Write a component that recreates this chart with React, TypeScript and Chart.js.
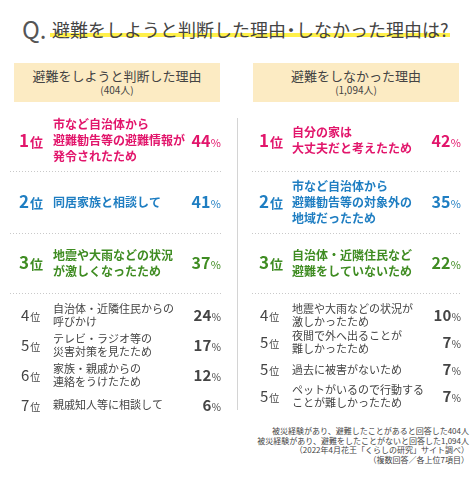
import React, { useEffect, useRef } from "react";
import { Chart, registerables } from "chart.js";

Chart.register(...registerables);

const FONT = '"Noto Sans CJK JP", "Noto Sans", sans-serif';

// ---- data ----
const titleQ = "Q.";
const titleParts = ["避難をしようと判断した理由", "・", "しなかった理由は?"];
const leftHeader = "避難をしようと判断した理由";
const leftCount = "(404人)";
const rightHeader = "避難をしなかった理由";
const rightCount = "(1,094人)";

const leftTopRanks = ["1位", "2位", "3位"];
const leftTopReasons = [
  ["市など自治体から", "避難勧告等の避難情報が", "発令されたため"],
  ["同居家族と相談して"],
  ["地震や大雨などの状況", "が激しくなったため"],
];
const leftTopValues = [44, 41, 37];

const leftBottomRanks = ["4位", "5位", "6位", "7位"];
const leftBottomReasons = [
  ["自治体・近隣住民からの", "呼びかけ"],
  ["テレビ・ラジオ等の", "災害対策を見たため"],
  ["家族・親戚からの", "連絡をうけたため"],
  ["親戚知人等に相談して"],
];
const leftBottomValues = [24, 17, 12, 6];

const rightTopRanks = ["1位", "2位", "3位"];
const rightTopReasons = [
  ["自分の家は", "大丈夫だと考えたため"],
  ["市など自治体から", "避難勧告等の対象外の", "地域だったため"],
  ["自治体・近隣住民など", "避難をしていないため"],
];
const rightTopValues = [42, 35, 22];

const rightBottomRanks = ["4位", "5位", "5位", "5位"];
const rightBottomReasons = [
  ["地震や大雨などの状況が", "激しかったため"],
  ["夜間で外へ出ることが", "難しかったため"],
  ["過去に被害がないため"],
  ["ペットがいるので行動する", "ことが難しかったため"],
];
const rightBottomValues = [10, 7, 7, 7];

const topColors = ["#e2156b", "#1f7ec2", "#3f8c22"];
const bottomColor = "#444444";

const footnotes = [
  "被災経験があり、避難したことがあると回答した404人",
  "被災経験があり、避難をしたことがないと回答した1,094人",
  "（2022年4月花王「くらしの研究」サイト調べ）",
  "（複数回答／各上位7項目）",
];

type RowsProps = {
  ranks: string[];
  reasons: string[][];
  values: number[];
  colors: string[];
  top: boolean;
  left: number;
  y: number;
  width: number;
  height: number;
  rankOff: number;
  textOff: number;
};

function RowsChart(p: RowsProps) {
  const ref = useRef<HTMLCanvasElement | null>(null);
  useEffect(() => {
    if (!ref.current) return;
    const isTop = p.top;
    const rowsPlugin = {
      id: "rowsText",
      afterDatasetsDraw(chart: any) {
        const { ctx, chartArea, scales } = chart;
        const ys = scales.y;
        const n = p.ranks.length;
        ctx.save();
        if (isTop) {
          ctx.strokeStyle = "#c9c9c9";
          ctx.lineWidth = 1;
          ctx.setLineDash([1, 2]);
          for (let i = 0; i < n; i++) {
            const yy =
              i < n - 1
                ? (ys.getPixelForValue(i) + ys.getPixelForValue(i + 1)) / 2
                : chartArea.bottom - 1;
            const ry = Math.round(yy) + 0.5;
            ctx.beginPath();
            ctx.moveTo(chartArea.left, ry);
            ctx.lineTo(chartArea.right, ry);
            ctx.stroke();
          }
          ctx.setLineDash([]);
        }
        for (let i = 0; i < n; i++) {
          const cy = ys.getPixelForValue(i);
          const color = p.colors[i];
          ctx.fillStyle = color;
          const weight = isTop ? "bold" : "normal";
          // rank
          const num = p.ranks[i].replace("位", "");
          const numSize = isTop ? 17 : 15;
          const iSize = isTop ? 13 : 10;
          ctx.textBaseline = "alphabetic";
          ctx.textAlign = "left";
          ctx.font = `${weight} ${numSize}px ${FONT}`;
          const rx = chartArea.left + p.rankOff;
          const base = cy + (isTop ? 6 : 5.5);
          ctx.fillText(num, rx, base);
          const nw = ctx.measureText(num).width;
          ctx.font = `${weight} ${iSize}px ${FONT}`;
          ctx.fillText("位", rx + nw + 1, base);
          // reason lines
          const lines = p.reasons[i];
          const lh = isTop ? 16 : 13;
          ctx.font = `${weight} ${isTop ? 12 : 11}px ${FONT}`;
          ctx.textBaseline = "middle";
          for (let j = 0; j < lines.length; j++) {
            const ly = cy + (j - (lines.length - 1) / 2) * lh;
            ctx.fillText(lines[j], chartArea.left + p.textOff, ly);
          }
          // percent
          ctx.textBaseline = "alphabetic";
          ctx.textAlign = "right";
          ctx.font = `normal ${isTop ? 11 : 10}px ${FONT}`;
          const pr = chartArea.right;
          ctx.fillText("%", pr, base);
          const pw = ctx.measureText("%").width;
          ctx.font = `bold ${isTop ? 16 : 15}px ${FONT}`;
          ctx.fillText(String(p.values[i]), pr - pw - 0.5, base);
        }
        ctx.restore();
      },
    };
    const chart = new Chart(ref.current, {
      type: "bar",
      data: {
        labels: p.ranks,
        datasets: [
          {
            data: p.values,
            backgroundColor: "rgba(0,0,0,0)",
            borderWidth: 0,
          },
        ],
      },
      options: {
        indexAxis: "y",
        animation: false,
        responsive: false,
        maintainAspectRatio: false,
        layout: { padding: 0 },
        scales: {
          x: { display: false, min: 0, max: 100 },
          y: { display: false },
        },
        plugins: { legend: { display: false }, tooltip: { enabled: false } },
        events: [],
      },
      plugins: [rowsPlugin],
    });
    return () => chart.destroy();
  }, []);
  return (
    <canvas
      ref={ref}
      width={p.width}
      height={p.height}
      style={{
        position: "absolute",
        left: p.left,
        top: p.y,
        width: p.width,
        height: p.height,
      }}
    />
  );
}

const headerBox: React.CSSProperties = {
  position: "absolute",
  top: 63,
  width: 206,
  height: 39,
  background: "#fcebc3",
  color: "#444",
  textAlign: "center",
  fontFamily: FONT,
};

export default function App() {
  return (
    <div
      style={{
        position: "absolute",
        left: 0,
        top: 0,
        width: 474,
        height: 478,
        background: "#fff",
        overflow: "hidden",
        fontFamily: FONT,
      }}
    >
      {/* title */}
      <div
        style={{
          position: "absolute",
          left: 50,
          top: 33,
          width: 400,
          height: 4,
          background: "#fff04a",
        }}
      />
      <div
        style={{
          position: "absolute",
          left: 22,
          top: 14,
          fontSize: 24,
          lineHeight: "30px",
          color: "#555",
        }}
      >
        {titleQ}
      </div>
      <div
        style={{
          position: "absolute",
          left: 52,
          top: 16,
          fontSize: 18,
          lineHeight: "26px",
          color: "#444",
          whiteSpace: "nowrap",
        }}
      >
        {titleParts[0]}
        <span style={{ display: "inline-block", margin: "0 -4px" }}>{titleParts[1]}</span>
        {titleParts[2]}
      </div>
      {/* headers */}
      <div style={{ ...headerBox, left: 14 }}>
        <div style={{ fontSize: 13, lineHeight: "14px", marginTop: 6 }}>{leftHeader}</div>
        <div style={{ fontSize: 10, lineHeight: "12px", marginTop: 1 }}>{leftCount}</div>
      </div>
      <div style={{ ...headerBox, left: 253 }}>
        <div style={{ fontSize: 13, lineHeight: "14px", marginTop: 6 }}>{rightHeader}</div>
        <div style={{ fontSize: 10, lineHeight: "12px", marginTop: 1 }}>{rightCount}</div>
      </div>
      {/* vertical divider */}
      <div
        style={{
          position: "absolute",
          left: 237,
          top: 118,
          width: 1,
          height: 292,
          background: "#d4d4d4",
        }}
      />
      <RowsChart
        ranks={leftTopRanks}
        reasons={leftTopReasons}
        values={leftTopValues}
        colors={topColors}
        top={true}
        left={10}
        y={110}
        width={211}
        height={184}
        rankOff={9}
        textOff={43}
      />
      <RowsChart
        ranks={leftBottomRanks}
        reasons={leftBottomReasons}
        values={leftBottomValues}
        colors={leftBottomRanks.map(() => bottomColor)}
        top={false}
        left={10}
        y={300}
        width={211}
        height={120}
        rankOff={11}
        textOff={43}
      />
      <RowsChart
        ranks={rightTopRanks}
        reasons={rightTopReasons}
        values={rightTopValues}
        colors={topColors}
        top={true}
        left={252}
        y={110}
        width={209}
        height={184}
        rankOff={7}
        textOff={40}
      />
      <RowsChart
        ranks={rightBottomRanks}
        reasons={rightBottomReasons}
        values={rightBottomValues}
        colors={rightBottomRanks.map(() => bottomColor)}
        top={false}
        left={252}
        y={302}
        width={209}
        height={108}
        rankOff={8}
        textOff={40}
      />
      {/* footnotes */}
      <div
        style={{
          position: "absolute",
          right: 5,
          top: 426,
          fontSize: 8,
          lineHeight: "9.5px",
          color: "#444",
          textAlign: "right",
          whiteSpace: "nowrap",
        }}
      >
        {footnotes.map((f, i) => (
          <div key={i}>{f}</div>
        ))}
      </div>
    </div>
  );
}
